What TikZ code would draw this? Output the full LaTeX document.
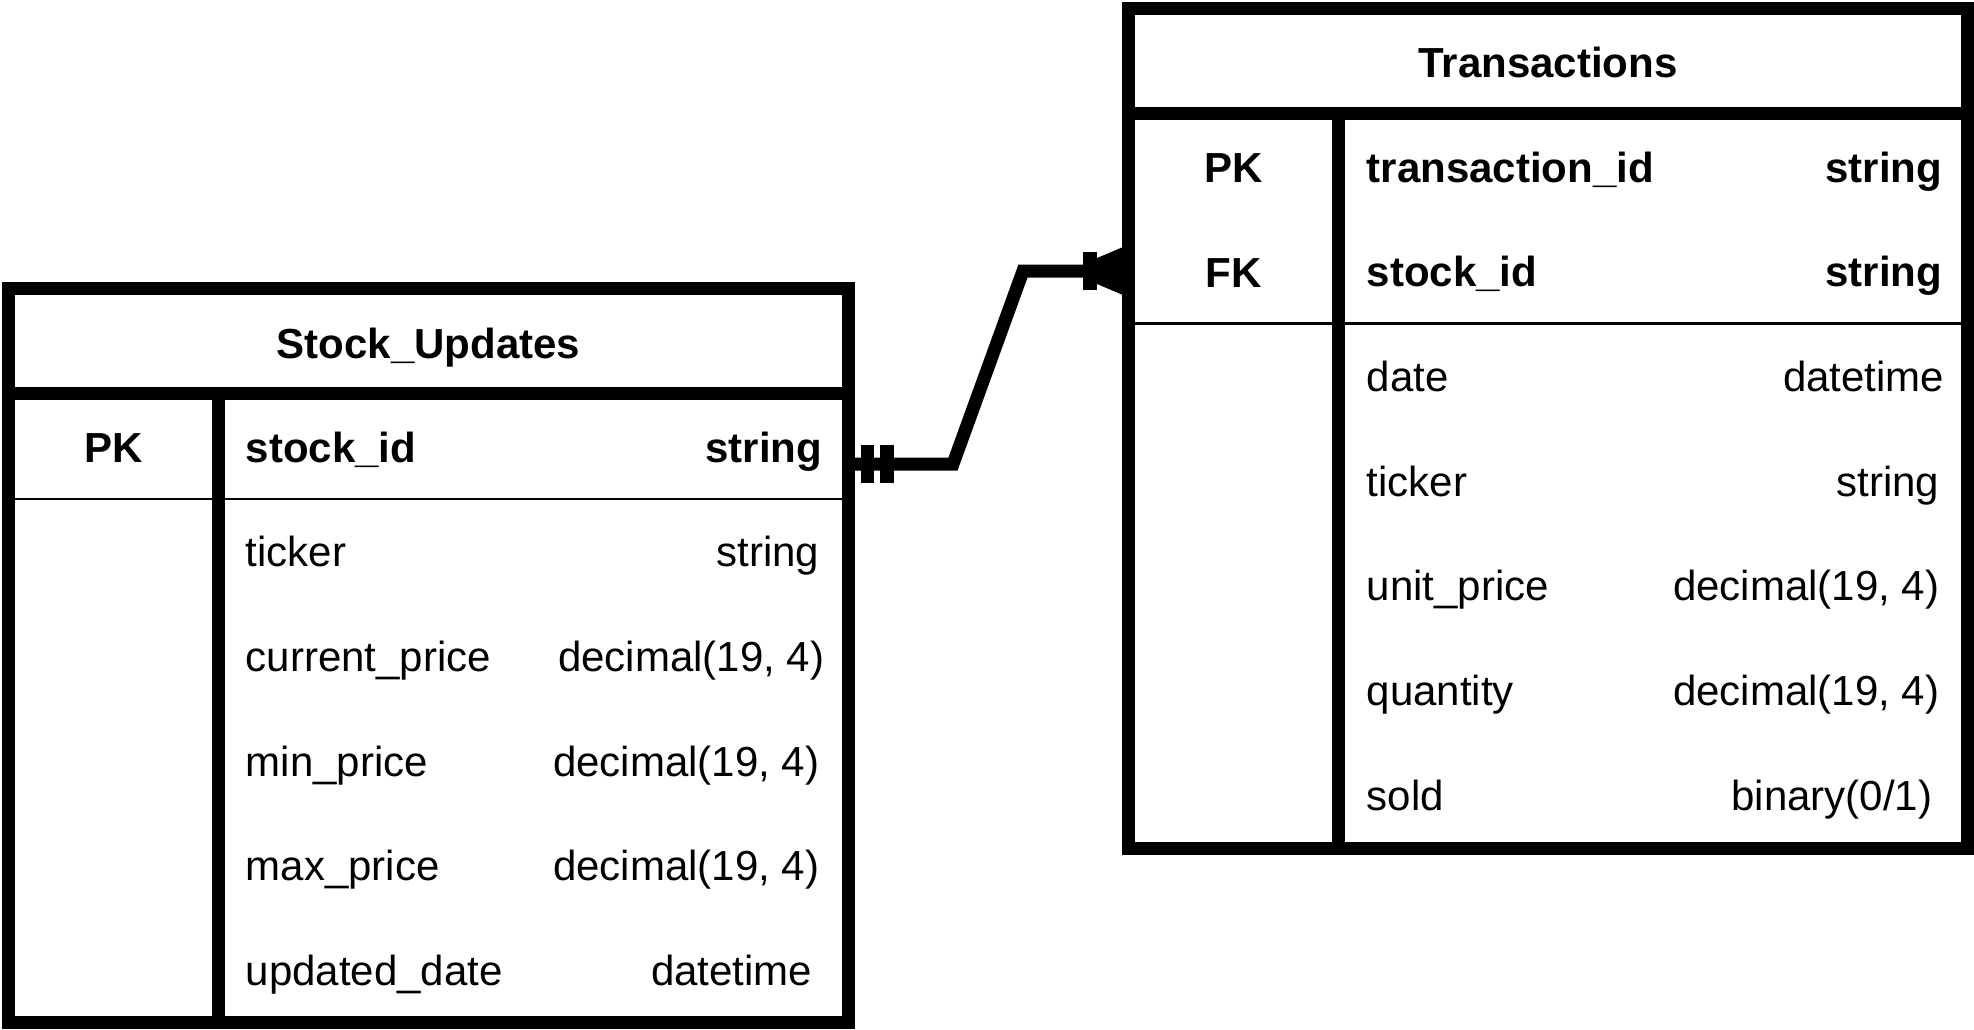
\documentclass[tikz,border=0pt]{standalone}
\usepackage{fontspec}
\setmainfont{Liberation Sans}
\begin{document}
\begin{tikzpicture}[x=0.01cm,y=-0.01cm,
  frame/.style={line width=3.7pt},
  rule/.style={line width=0.7pt},
  link/.style={line width=3.7pt,line join=miter},
  txt/.style={inner sep=0pt,font=\fontsize{11.95}{14}\selectfont},
  heading/.style={txt,anchor=base,font=\bfseries\fontsize{11.95}{14}\selectfont},
  keytag/.style={heading},
  fname/.style={txt,anchor=base west},
  ftype/.style={txt,anchor=base east},
  bold/.style={font=\bfseries\fontsize{11.95}{14}\selectfont}
]
\useasboundingbox (0,0) rectangle (1974,1029);

% ---------- Stock_Updates ----------
\draw[frame] (8.5,288.5) rectangle (848.5,1022.5);
\draw[frame] (8.5,393.5) -- (848.5,393.5);
\draw[frame] (218.5,393.5) -- (218.5,1022.5);
\draw[rule] (8.5,499) -- (848.5,499);

\node[heading] (su-title) at (428.5,358) {Stock\_Updates};
\node[keytag] (su-pk) at (113.5,462) {PK};

\node[fname,bold] (su-n1) at (245,462) {stock\_id};
\node[ftype,bold] (su-t1) at (823,462) {string};
\node[fname] (su-n2) at (245,566.7) {ticker};
\node[ftype] (su-t2) at (820,566.7) {string};
\node[fname] (su-n3) at (245,671.4) {current\_price};
\node[ftype] (su-t3) at (825,671.4) {decimal(19, 4)};
\node[fname] (su-n4) at (245,776.1) {min\_price};
\node[ftype] (su-t4) at (820,776.1) {decimal(19, 4)};
\node[fname] (su-n5) at (245,880.8) {max\_price};
\node[ftype] (su-t5) at (820,880.8) {decimal(19, 4)};
\node[fname] (su-n6) at (245,985.5) {updated\_date};
\node[ftype] (su-t6) at (813,985.5) {datetime};

% ---------- Transactions ----------
\draw[frame] (1128.5,8.5) rectangle (1967.5,848.5);
\draw[frame] (1128.5,113.5) -- (1967.5,113.5);
\draw[frame] (1338.5,113.5) -- (1338.5,848.5);
\draw[rule] (1128.5,323.5) -- (1967.5,323.5);

\node[heading] (tr-title) at (1548,77) {Transactions};
\node[keytag] (tr-pk) at (1233.5,182) {PK};
\node[keytag] (tr-fk) at (1233.5,287) {FK};

\node[fname,bold] (tr-n1) at (1366,182) {transaction\_id};
\node[ftype,bold] (tr-t1) at (1943,182) {string};
\node[fname,bold] (tr-n2) at (1366,286.7) {stock\_id};
\node[ftype,bold] (tr-t2) at (1943,286.7) {string};
\node[fname] (tr-n3) at (1366,391.4) {date};
\node[ftype] (tr-t3) at (1945,391.4) {datetime};
\node[fname] (tr-n4) at (1366,496.1) {ticker};
\node[ftype] (tr-t4) at (1940,496.1) {string};
\node[fname] (tr-n5) at (1366,600.8) {unit\_price};
\node[ftype] (tr-t5) at (1940,600.8) {decimal(19, 4)};
\node[fname] (tr-n6) at (1366,705.5) {quantity};
\node[ftype] (tr-t6) at (1940,705.5) {decimal(19, 4)};
\node[fname] (tr-n7) at (1366,810.2) {sold};
\node[ftype] (tr-t7) at (1933,810.2) {binary(0/1)};

% ---------- relationship: one (mandatory) to many ----------
\coordinate (su-end) at (848.5,464);
\coordinate (tr-end) at (1128.5,271);
\draw[link] (su-end) -- (953,464) -- (1023,271) -- (tr-end);

% mandatory-one bars at Stock_Updates
\fill (861,445) rectangle (874,483);
\fill (880,445) rectangle (894,483);
% one bar and crow's foot at Transactions
\fill (1083,252) rectangle (1097,290);
\fill (1097,258) -- (1123,247) -- (1123,295) -- (1097,284) -- cycle;
\end{tikzpicture}
\end{document}
